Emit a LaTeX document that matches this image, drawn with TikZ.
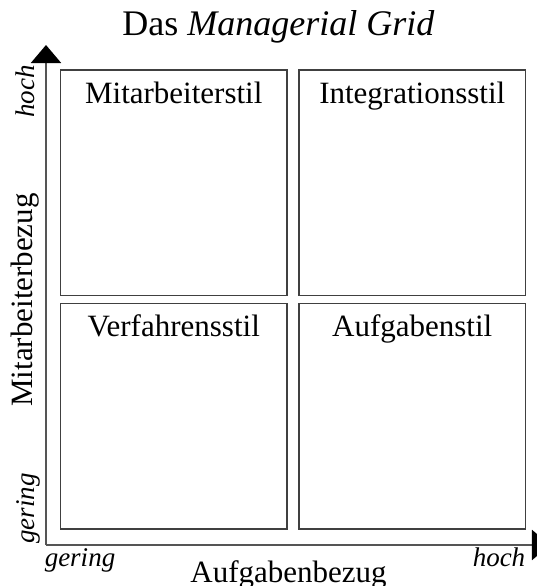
\documentclass[tikz,border=0pt]{standalone}
\usepackage{fontspec}
\setmainfont{Liberation Serif}
\usetikzlibrary{arrows.meta,calc,positioning}
\definecolor{gridline}{HTML}{404040}
\definecolor{axisline}{HTML}{555555}
\tikzset{
  gridbox/.style={
    draw=gridline,
    line width=0.65pt,
    minimum width=113.25pt,
    minimum height=112.75pt,
    inner sep=0pt,
    outer sep=0pt
  },
  boxlabel/.style={anchor=base, inner sep=0pt, font=\fontsize{15.5}{18}\selectfont},
  axislabel/.style={anchor=base, inner sep=0pt, font=\fontsize{15.5}{18}\selectfont},
  scalelabel/.style={anchor=base, inner sep=0pt, font=\fontsize{13.5}{16}\selectfont\itshape},
  titlelabel/.style={anchor=base, inner sep=0pt, font=\fontsize{18}{21}\selectfont},
  axis/.style={draw=axisline, line width=1pt, -{Triangle[length=9pt,width=15pt,black]}}
}

\begin{document}
\begin{tikzpicture}[x=0.5pt,y=0.5pt]
  \useasboundingbox (0,0) rectangle (537,586);
  % the four styles
  \node[gridbox] (mitarbeiter) at (173.75,403.25) {};
  \node[gridbox, right=6pt of mitarbeiter] (integration) {};
  \node[gridbox, below=4pt of mitarbeiter] (verfahren) {};
  \node[gridbox, below=4pt of integration] (aufgaben) {};
  \node[boxlabel] (mitarbeitertext) at ([yshift=-16.5pt]mitarbeiter.north) {Mitarbeiterstil};
  \node[boxlabel] (integrationtext) at ([yshift=-16.5pt]integration.north) {Integrationsstil};
  \node[boxlabel] (verfahrentext) at ([yshift=-16.5pt]verfahren.north) {Verfahrensstil};
  \node[boxlabel] (aufgabentext) at ([yshift=-16.5pt]aufgaben.north) {Aufgabenstil};
  % axes
  \coordinate (origin) at (46,41);
  \coordinate (ytop) at (46,541);
  \coordinate (xend) at (550,41);
  \draw[axis] (origin) -- (ytop);
  \draw[axis] (origin) -- (xend);
  \node[titlelabel] (title) at (278.5,551) {Das \textit{Managerial Grid}};
  \node[axislabel, rotate=90] (ylabel) at (33,286) {Mitarbeiterbezug};
  \node[axislabel] (xlabel) at (288.5,3.5) {Aufgabenbezug};
  \node[scalelabel, rotate=90] (yhigh) at (35,494.5) {hoch};
  \node[scalelabel, rotate=90] (ylow) at (35,77.6) {gering};
  \node[scalelabel] (xlow) at (80,19) {gering};
  \node[scalelabel] (xhigh) at (499,19) {hoch};
\end{tikzpicture}
\end{document}
